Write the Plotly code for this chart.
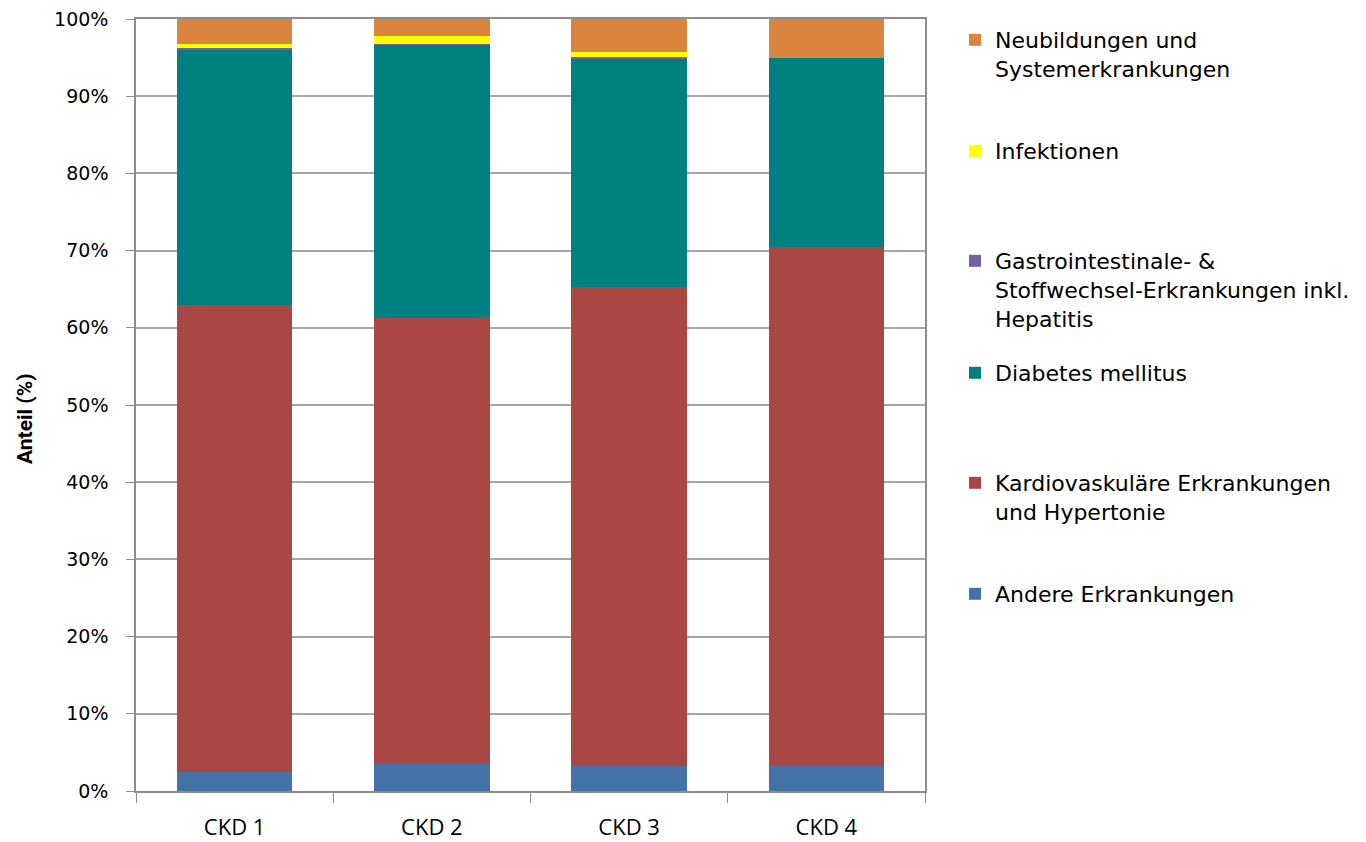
import plotly.graph_objects as go

categories = ["CKD 1", "CKD 2", "CKD 3", "CKD 4"]

andere = [2.4, 3.6, 3.3, 3.3]
kardio = [60.6, 57.7, 62.0, 67.2]
diabetes = [33.0, 35.4, 29.6, 24.4]
gastro = [0.2, 0.05, 0.2, 0.0]
infektionen = [0.6, 1.0, 0.6, 0.0]
neubildungen = [3.2, 2.3, 4.3, 5.1]

series_names = [
    "Andere Erkrankungen",
    "Kardiovaskuläre Erkrankungen<br>und Hypertonie",
    "Diabetes mellitus",
    "Gastrointestinale- &<br>Stoffwechsel-Erkrankungen inkl.<br>Hepatitis",
    "Infektionen",
    "Neubildungen und<br>Systemerkrankungen",
]
series_values = [andere, kardio, diabetes, gastro, infektionen, neubildungen]
colors = ["#4572A7", "#AA4643", "#008080", "#7660A0", "#FFFF00", "#DB843D"]

y_ticks = [0, 10, 20, 30, 40, 50, 60, 70, 80, 90, 100]
y_ticklabels = [f"{v}%" for v in y_ticks]

# figure geometry (pixels)
W, H = 1366, 842
L, R, T, B = 128, 449, 11, 59
plot_w = W - L - R
plot_h = H - T - B

# legend entry top positions (pixels from figure top)
legend_tops = [565, 454, 344, 232, 122, 11]
legend_keys = ["legend", "legend2", "legend3", "legend4", "legend5", "legend6"]

fig = go.Figure()
for name, vals, col, lk in zip(series_names, series_values, colors, legend_keys):
    fig.add_trace(go.Bar(
        x=categories, y=vals, name=name, marker_color=col,
        marker_line_width=0, legend=lk, width=0.585,
    ))

legend_font = dict(family="DejaVu Sans, Verdana, sans-serif", size=22, color="#000000")
layout_legends = {}
for lk, top in zip(legend_keys, legend_tops):
    layout_legends[lk] = dict(
        x=(947 - L) / plot_w, xanchor="left",
        y=(H - B - top) / plot_h, yanchor="top",
        font=legend_font, bgcolor="rgba(0,0,0,0)", borderwidth=0,
        itemwidth=30, tracegroupgap=0, valign="top",
    )

fig.update_layout(
    width=W, height=H,
    margin=dict(l=L, r=R, t=T, b=B, pad=0, autoexpand=False),
    barmode="stack",
    plot_bgcolor="white", paper_bgcolor="white",
    showlegend=True,
    **layout_legends,
)

fig.add_annotation(
    text="<b>Anteil (%)</b>", textangle=-90,
    xref="paper", yref="paper",
    x=(17 - L) / plot_w, xanchor="center",
    y=(H - B - 410) / plot_h, yanchor="middle",
    showarrow=False,
    font=dict(family="Liberation Sans Narrow, Roboto, sans-serif", size=21, color="#000000"),
)

fig.update_xaxes(
    automargin=False,
    showline=True, linecolor="#8C8C8C", linewidth=1.5, mirror=True,
    ticks="outside", tickson="boundaries", ticklen=10, tickcolor="#8C8C8C",
    tickfont=dict(family="Open Sans, Lato, sans-serif", size=22, color="#000000"),
    ticklabelstandoff=16,
    showgrid=False,
)
fig.update_yaxes(
    automargin=False, ticklabeloverflow="allow",
    range=[0, 100], tickvals=y_ticks, ticktext=y_ticklabels,
    showline=True, linecolor="#8C8C8C", linewidth=1.5, mirror=True,
    ticks="outside", ticklen=8, tickcolor="#8C8C8C",
    tickfont=dict(family="DejaVu Sans, Verdana, sans-serif", size=19, color="#000000"),
    ticklabelstandoff=14,
    showgrid=True, gridcolor="#A6A6A6", gridwidth=1.5,
    zeroline=False,
)

fig.write_html("out.html")
